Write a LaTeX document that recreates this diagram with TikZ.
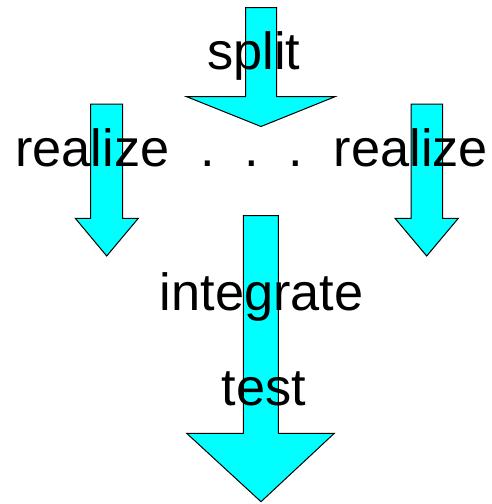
\documentclass[tikz,border=0pt]{standalone}
\usepackage{fontspec}
\setmainfont{Liberation Sans}
\definecolor{aqua}{RGB}{0,255,255}
\begin{document}
\begin{tikzpicture}[x=1pt,y=-1pt,
  blockarrow/.style={draw=black,line width=1pt,fill=aqua,line join=miter},
  lbl/.style={anchor=base,inner sep=0pt,font=\fontsize{52.3}{60}\selectfont}]
\useasboundingbox (0,0) rectangle (492,504);
% top arrow
\draw[blockarrow] (245.7,7.5) -- (276.7,7.5) -- (276.7,96.7) -- (335,96.7) -- (261,126.5) -- (186.7,96.7) -- (245.7,96.7) -- cycle;
% left arrow
\draw[blockarrow] (90.7,104) -- (122.7,104) -- (122.7,218.3) -- (138.3,218.3) -- (106.7,256) -- (75.3,218.3) -- (90.7,218.3) -- cycle;
% right arrow
\draw[blockarrow] (411,104) -- (442.7,104) -- (442.7,218.3) -- (458.3,218.3) -- (426.7,256) -- (395,218.3) -- (411,218.3) -- cycle;
% bottom arrow
\draw[blockarrow] (243.3,215.7) -- (278.3,215.7) -- (278.3,433.3) -- (334.3,433.3) -- (261,501.7) -- (186.7,433.3) -- (243.3,433.3) -- cycle;
% labels
\node[lbl] (split) at (253.8,69) {split};
\node[lbl] (realizeL) at (92.3,166) {realize};
\node[lbl] (dots) at (252,166) {.\hspace{29.6pt}.\hspace{29.6pt}.};
\node[lbl] (realizeR) at (411,166) {realize};
\node[lbl] (integrate) at (261.7,310) {integrate};
\node[lbl] (test) at (263.8,405) {test};
\end{tikzpicture}
\end{document}
